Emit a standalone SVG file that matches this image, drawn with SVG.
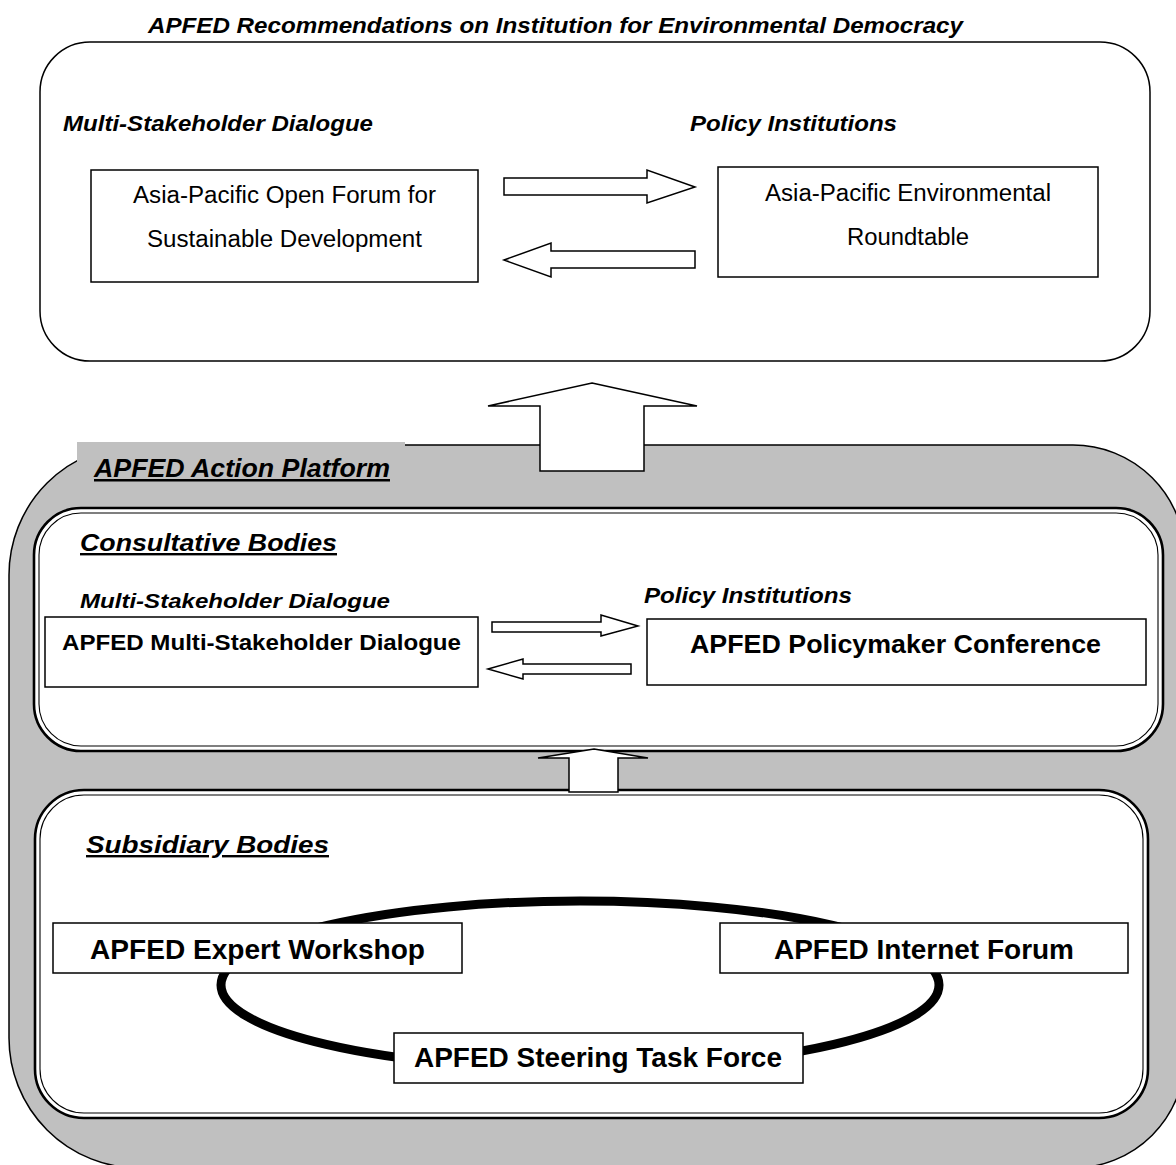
<svg xmlns="http://www.w3.org/2000/svg" width="1176" height="1165" viewBox="0 0 1176 1165">
<style>
text{font-family:"Liberation Sans",Arial,sans-serif;fill:#000}
.bi{font-weight:bold;font-style:italic}
.b{font-weight:bold}
.u{text-decoration:underline}
.box{fill:#fff;stroke:#000;stroke-width:1.5}
.arrow{fill:#fff;stroke:#000;stroke-width:1.5;stroke-linejoin:miter}
.dbl-out{fill:#fff;stroke:#000;stroke-width:2.6}
.dbl-in{fill:none;stroke:#000;stroke-width:1.1}
</style>
<rect width="1176" height="1165" fill="#fff"/>

<g id="recommendations">
  <text class="bi" x="148" y="33" font-size="22" textLength="815" lengthAdjust="spacingAndGlyphs">APFED Recommendations on Institution for Environmental Democracy</text>
  <rect class="box" x="40" y="42" width="1110" height="319" rx="50" ry="50"/>
  <text class="bi" x="63" y="131" font-size="22" textLength="310" lengthAdjust="spacingAndGlyphs">Multi-Stakeholder Dialogue</text>
  <text class="bi" x="690" y="131" font-size="22" textLength="207" lengthAdjust="spacingAndGlyphs">Policy Institutions</text>
</g>

<g id="open-forum">
  <rect class="box" x="91" y="170" width="387" height="112"/>
  <text x="133" y="203" font-size="23" textLength="303" lengthAdjust="spacingAndGlyphs">Asia-Pacific Open Forum for</text>
  <text x="147" y="247" font-size="23" textLength="275" lengthAdjust="spacingAndGlyphs">Sustainable Development</text>
</g>

<g id="roundtable">
  <rect class="box" x="718" y="167" width="380" height="110"/>
  <text x="765" y="201" font-size="23" textLength="286" lengthAdjust="spacingAndGlyphs">Asia-Pacific Environmental</text>
  <text x="847" y="245" font-size="23" textLength="122" lengthAdjust="spacingAndGlyphs">Roundtable</text>
</g>

<g id="action-platform">
  <path d="M139,445 H1073 A112,112 0 0 1 1185,557 V1056 A112,112 0 0 1 1073,1168 H139 A130,130 0 0 1 9,1038 V575 A130,130 0 0 1 139,445 Z" fill="#c0c0c0" stroke="#000" stroke-width="1.5"/>
  <rect x="77" y="442" width="328" height="28" fill="#c0c0c0"/>
  <text class="bi u" x="94" y="477" font-size="25" textLength="296" lengthAdjust="spacingAndGlyphs">APFED Action Platform</text>
</g>

<g id="consultative-bodies">
  <rect class="dbl-out" x="34" y="508" width="1129" height="243" rx="47" ry="47"/>
  <rect class="dbl-in" x="39" y="513" width="1119" height="233" rx="42" ry="42"/>
  <text class="bi u" x="80" y="551" font-size="24" textLength="257" lengthAdjust="spacingAndGlyphs">Consultative Bodies</text>
  <text class="bi" x="80" y="608" font-size="21" textLength="310" lengthAdjust="spacingAndGlyphs">Multi-Stakeholder Dialogue</text>
  <text class="bi" x="644" y="603" font-size="22" textLength="208" lengthAdjust="spacingAndGlyphs">Policy Institutions</text>
</g>

<g id="multi-stakeholder-dialogue">
  <rect class="box" x="45" y="617" width="433" height="70"/>
  <text class="b" x="62" y="650" font-size="22" textLength="399" lengthAdjust="spacingAndGlyphs">APFED Multi-Stakeholder Dialogue</text>
</g>

<g id="policymaker-conference">
  <rect class="box" x="647" y="619" width="499" height="66"/>
  <text class="b" x="690" y="653" font-size="26" textLength="411" lengthAdjust="spacingAndGlyphs">APFED Policymaker Conference</text>
</g>

<g id="subsidiary-bodies">
  <rect class="dbl-out" x="35" y="790" width="1113" height="328" rx="49" ry="49"/>
  <rect class="dbl-in" x="40" y="795" width="1103" height="318" rx="44" ry="44"/>
  <text class="bi u" x="86" y="853" font-size="24" textLength="243" lengthAdjust="spacingAndGlyphs">Subsidiary Bodies</text>
</g>

<g id="connectors">
  <ellipse cx="580" cy="985" rx="359" ry="84" fill="none" stroke="#000" stroke-width="9"/>
  <polygon class="arrow" points="504,178 647,178 647,170 695,187 647,203 647,195 504,195"/>
  <polygon class="arrow" points="504,260 551,243 551,251 695,251 695,268 551,268 551,277"/>
  <polygon class="arrow" points="592,383 697,406 644,406 644,471 540,471 540,406 488,406"/>
  <polygon class="arrow" points="492,622 601,622 601,615 638,626 601,636 601,632 492,632"/>
  <polygon class="arrow" points="488,669 523,659 523,664 631,664 631,674 523,674 523,679"/>
  <polygon class="arrow" points="594,749 648,758 618,758 618,792 569,792 569,758 538,758"/>
</g>

<g id="expert-workshop">
  <rect class="box" x="53" y="923" width="409" height="50"/>
  <text class="b" x="90" y="959" font-size="28" textLength="335" lengthAdjust="spacingAndGlyphs">APFED Expert Workshop</text>
</g>

<g id="internet-forum">
  <rect class="box" x="720" y="923" width="408" height="50"/>
  <text class="b" x="774" y="959" font-size="28" textLength="300" lengthAdjust="spacingAndGlyphs">APFED Internet Forum</text>
</g>

<g id="steering-task-force">
  <rect class="box" x="394" y="1033" width="409" height="50"/>
  <text class="b" x="414" y="1067" font-size="28" textLength="368" lengthAdjust="spacingAndGlyphs">APFED Steering Task Force</text>
</g>
</svg>
